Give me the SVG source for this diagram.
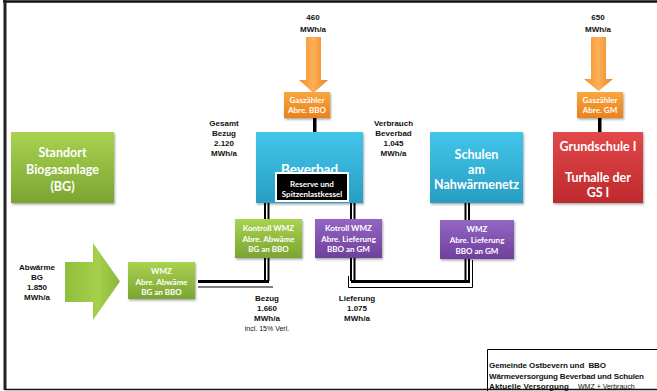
<svg xmlns="http://www.w3.org/2000/svg" width="657" height="391" viewBox="0 0 657 391">
<defs>
<linearGradient id="gGreen" x1="0" y1="0" x2="0" y2="1"><stop offset="0" stop-color="#a9d24f"/><stop offset="1" stop-color="#7ba532"/></linearGradient>
<linearGradient id="gBlue" x1="0" y1="0" x2="0" y2="1"><stop offset="0" stop-color="#42c6ec"/><stop offset="1" stop-color="#2a9dc2"/></linearGradient>
<linearGradient id="gRed" x1="0" y1="0" x2="0" y2="1"><stop offset="0" stop-color="#e2484a"/><stop offset="1" stop-color="#be2a2d"/></linearGradient>
<linearGradient id="gPurple" x1="0" y1="0" x2="0" y2="1"><stop offset="0" stop-color="#9466c4"/><stop offset="1" stop-color="#6f409c"/></linearGradient>
<linearGradient id="gOrange" x1="0" y1="0" x2="0" y2="1"><stop offset="0" stop-color="#f9a640"/><stop offset="1" stop-color="#e9821c"/></linearGradient>
<linearGradient id="gOrangeH" x1="0" y1="0" x2="1" y2="0"><stop offset="0" stop-color="#f4902a"/><stop offset="0.5" stop-color="#fbb055"/><stop offset="1" stop-color="#ea841f"/></linearGradient>
<linearGradient id="gGreenArrow" x1="0" y1="0" x2="1" y2="0"><stop offset="0" stop-color="#8fbf3c"/><stop offset="0.6" stop-color="#a6cf4c"/><stop offset="1" stop-color="#89b93a"/></linearGradient>
<filter id="sh" x="-10%" y="-10%" width="130%" height="130%"><feDropShadow dx="1" dy="1.5" stdDeviation="1" flood-color="#000" flood-opacity="0.35"/></filter>
</defs>
<style>
.lbl{font-family:"Liberation Sans",Arial,sans-serif;font-weight:bold;font-size:8px;fill:#111;text-anchor:middle}
.big{font-family:Lato,"Liberation Sans",sans-serif;font-weight:bold;font-size:12.5px;fill:#fff;text-anchor:middle}
.sm{font-family:Lato,"Liberation Sans",sans-serif;font-weight:bold;font-size:8px;fill:#fff;text-anchor:middle}
.ttl{font-family:"Liberation Sans",Arial,sans-serif;font-weight:bold;font-size:8px;fill:#111;white-space:pre}
.thin{font-weight:normal;font-size:7px}
.con{stroke:#000;fill:none}
</style>
<rect width="657" height="391" fill="#fff"/>
<!-- frame -->
<path d="M3 1.5H657" stroke="#111" stroke-width="2.5" fill="none"/>
<path d="M5 0V390" stroke="#222" stroke-width="3" fill="none"/>
<path d="M5 389.5H657" stroke="#111" stroke-width="1.5" fill="none"/>
<path d="M487.5 391V349.5H657" stroke="#000" stroke-width="1" fill="none"/>

<!-- connectors -->
<g id="connectors">
<rect x="311" y="116" width="8" height="21" fill="#fff"/>
<rect x="313" y="117" width="3.5" height="19" fill="#000"/>
<rect x="596" y="116" width="8" height="21" fill="#fff"/>
<rect x="598" y="117" width="3.5" height="19" fill="#000"/>
<path class="con" stroke-width="2" d="M265 203V219M268.5 203V219"/>
<path class="con" stroke-width="2" d="M351 201V219M354.5 201V219"/>
<path class="con" stroke-width="2" d="M465.5 203V220M469 203V220"/>
<path class="con" stroke-width="2" d="M265 258V281M268.5 258V281"/>
<path class="con" stroke-width="3" d="M198 281.5H269"/>
<path class="con" stroke-width="1" d="M198 287H273"/>
<path class="con" stroke-width="2" d="M351 258V281M354.5 258V281"/>
<path class="con" stroke-width="2" d="M465.5 259V281M469 259V281"/>
<path class="con" stroke-width="3" d="M351 281.5H470"/>
<path class="con" stroke-width="1" d="M348.5 276V287.5H472.5V260"/>
</g>

<!-- arrows -->
<g id="arrow460"><path d="M306 37H321V80H328L313.5 93L299 80H306Z" fill="url(#gOrangeH)"/></g>
<g id="arrow650"><path d="M591 37H606V79H613L598.5 91L584 79H591Z" fill="url(#gOrangeH)"/></g>
<g id="arrowBG"><path d="M65 262H93V243L120 281.5L93 320V302H65Z" fill="url(#gGreenArrow)"/></g>

<!-- nodes -->
<g id="standort"><rect x="11" y="132" width="103" height="71" fill="url(#gGreen)" filter="url(#sh)"/>
<text class="big" x="62.5" y="157">Standort</text><text class="big" x="62.5" y="174">Biogasanlage</text><text class="big" x="62.5" y="191">(BG)</text></g>

<g id="gas-bbo"><rect x="284" y="92" width="46" height="26" fill="url(#gOrange)" filter="url(#sh)"/>
<text class="sm" x="307" y="103" font-size="7.5">Gaszähler</text><text class="sm" x="307" y="113" font-size="7.5">Abre. BBO</text></g>

<g id="beverbad"><rect x="256" y="132" width="107" height="71" fill="url(#gBlue)" filter="url(#sh)"/>
<text class="big" x="309.5" y="174" style="font-size:13.5px">Beverbad</text></g>

<g id="reserve"><rect x="275" y="172" width="74" height="30" fill="#fff"/><rect x="277" y="174" width="70" height="26" fill="#000"/>
<text class="sm" x="312" y="187" font-size="7.5">Reserve und</text><text class="sm" x="312" y="197" font-size="7.5">Spitzenlastkessel</text></g>

<g id="schulen"><rect x="430" y="132" width="93" height="71" fill="url(#gBlue)" filter="url(#sh)"/>
<text class="big" x="476.5" y="159">Schulen</text><text class="big" x="476.5" y="174">am</text><text class="big" x="476.5" y="189">Nahwärmenetz</text></g>

<g id="gas-gm"><rect x="577" y="92" width="46" height="26" fill="url(#gOrange)" filter="url(#sh)"/>
<text class="sm" x="600" y="103" font-size="7.5">Gaszähler</text><text class="sm" x="600" y="113" font-size="7.5">Abre. GM</text></g>

<g id="grundschule"><rect x="553" y="132" width="90" height="71" fill="url(#gRed)" filter="url(#sh)"/>
<text class="big" x="598" y="151">Grundschule I</text><text class="big" x="598" y="182">Turhalle der</text><text class="big" x="598" y="197">GS I</text></g>

<g id="kontroll-wmz"><rect x="235" y="219" width="67" height="39" fill="url(#gGreen)" filter="url(#sh)"/>
<text class="sm" x="268.5" y="231">Kontroll WMZ</text><text class="sm" x="268.5" y="241.5">Abre. Abwäme</text><text class="sm" x="268.5" y="252">BG an BBO</text></g>

<g id="kotroll-wmz"><rect x="315" y="219" width="67" height="39" fill="url(#gPurple)" filter="url(#sh)"/>
<text class="sm" x="348.5" y="231">Kotroll WMZ</text><text class="sm" x="348.5" y="241.5">Abre. Lieferung</text><text class="sm" x="348.5" y="252">BBO an GM</text></g>

<g id="wmz-gm"><rect x="440" y="220" width="74" height="39" fill="url(#gPurple)" filter="url(#sh)"/>
<text class="sm" x="477" y="232">WMZ</text><text class="sm" x="477" y="243">Abre. Lieferung</text><text class="sm" x="477" y="254">BBO an GM</text></g>

<g id="wmz-bg"><rect x="128" y="262" width="67" height="37" fill="url(#gGreen)" filter="url(#sh)"/>
<text class="sm" x="161.5" y="274">WMZ</text><text class="sm" x="161.5" y="284.5">Abre. Abwäme</text><text class="sm" x="161.5" y="295">BG an BBO</text></g>

<!-- labels -->
<g id="labels">
<text class="lbl" x="313" y="20">460</text><text class="lbl" x="313" y="32">MWh/a</text>
<text class="lbl" x="598" y="20">650</text><text class="lbl" x="598" y="32">MWh/a</text>
<text class="lbl" x="224" y="126">Gesamt</text><text class="lbl" x="224" y="136">Bezug</text><text class="lbl" x="224" y="146">2.120</text><text class="lbl" x="224" y="156">MWh/a</text>
<text class="lbl" x="393.5" y="126">Verbrauch</text><text class="lbl" x="393.5" y="136">Beverbad</text><text class="lbl" x="393.5" y="146">1.045</text><text class="lbl" x="393.5" y="156">MWh/a</text>
<text class="lbl" x="37" y="270">Abwärme</text><text class="lbl" x="37" y="280">BG</text><text class="lbl" x="37" y="290">1.850</text><text class="lbl" x="37" y="300">MWh/a</text>
<text class="lbl" x="267" y="301">Bezug</text><text class="lbl" x="267" y="311">1.660</text><text class="lbl" x="267" y="321">MWh/a</text><text class="lbl thin" x="267" y="331">incl. 15% Verl.</text>
<text class="lbl" x="357" y="301">Lieferung</text><text class="lbl" x="357" y="311">1.075</text><text class="lbl" x="357" y="321">MWh/a</text>
</g>

<g id="title">
<text class="ttl" x="489" y="368" textLength="117">Gemeinde Ostbevern und  BBO</text>
<text class="ttl" x="489" y="378.5" textLength="155">Wärmeversorgung Beverbad und Schulen</text>
<text class="ttl" x="489" y="388.5" textLength="80">Aktuelle Versorgung</text>
<text class="ttl thin" x="578" y="388.5">WMZ + Verbrauch</text>
</g>
</svg>
